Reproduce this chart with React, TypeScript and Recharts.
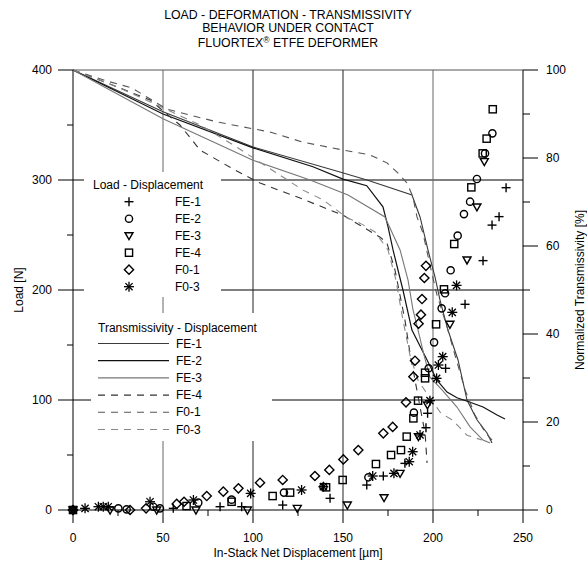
import React from "react";
import { ComposedChart, XAxis, YAxis, Scatter, Line, ReferenceLine } from "recharts";

const FONT = "'Liberation Sans', Arial, Helvetica, sans-serif";

const xTicks = [0, 25, 50, 75, 100, 125, 150, 175, 200, 225, 250];
const loadTicks = [0, 50, 100, 150, 200, 250, 300, 350, 400];
const transTicks = [0, 10, 20, 30, 40, 50, 60, 70, 80, 90, 100];

const titleLines = ["LOAD - DEFORMATION - TRANSMISSIVITY", "BEHAVIOR UNDER CONTACT"];
const seriesNames = ["FE-1", "FE-2", "FE-3", "FE-4", "F0-1", "F0-3"];

// Load - Displacement (d in µm, l in N)
const loadFE1 = [
  { d: 0, l: 0 }, { d: 55.7, l: 1.5 }, { d: 81.7, l: 3 }, { d: 93.7, l: 3 }, { d: 116.5, l: 4.5 },
  { d: 142.8, l: 10.6 }, { d: 163.2, l: 22.7 }, { d: 172.4, l: 30.9 }, { d: 184.4, l: 42.4 },
  { d: 196.1, l: 74.8 }, { d: 197, l: 87.9 }, { d: 207, l: 128.8 }, { d: 217.8, l: 187 },
  { d: 227.8, l: 226.7 }, { d: 232.8, l: 259 }, { d: 236.7, l: 266.7 }, { d: 240.6, l: 293 },
];
const loadFE2 = [
  { d: 0, l: 0 }, { d: 25.2, l: 1.5 }, { d: 29.8, l: 0.6 }, { d: 44.6, l: 3 }, { d: 48.3, l: 1.5 },
  { d: 69.6, l: 6.7 }, { d: 88.1, l: 9.4 }, { d: 117.2, l: 15.8 }, { d: 139.1, l: 21.2 },
  { d: 164.1, l: 29.7 }, { d: 189.4, l: 88.5 }, { d: 197.6, l: 128.8 }, { d: 200.6, l: 152.4 },
  { d: 204.8, l: 183.3 }, { d: 206.7, l: 197 }, { d: 209.8, l: 217.9 }, { d: 213.7, l: 249.4 },
  { d: 217.2, l: 269 }, { d: 220.6, l: 280.3 }, { d: 224.4, l: 300.9 }, { d: 228.9, l: 324.2 },
  { d: 233, l: 342.4 },
];
const loadFE3 = [
  { d: 0, l: 0 }, { d: 20.6, l: 0 }, { d: 46.5, l: 0 }, { d: 68.3, l: 0 }, { d: 96.9, l: 0 },
  { d: 124.6, l: 1.5 }, { d: 152.4, l: 4.5 }, { d: 172.8, l: 11.2 }, { d: 181.7, l: 33.3 },
  { d: 191.9, l: 66.7 }, { d: 196.9, l: 95.5 }, { d: 209.4, l: 168.8 }, { d: 218.9, l: 227.3 },
  { d: 224.4, l: 275.5 }, { d: 228.5, l: 316.7 },
];
const loadFE4 = [
  { d: 0, l: 0 }, { d: 63.1, l: 3.6 }, { d: 88.1, l: 7.5 }, { d: 110.9, l: 12.7 }, { d: 120.6, l: 15.8 },
  { d: 140.6, l: 20.6 }, { d: 149.8, l: 27.3 }, { d: 168.3, l: 41.8 }, { d: 176.7, l: 50 },
  { d: 182.2, l: 54.5 }, { d: 185.4, l: 66.7 }, { d: 189.1, l: 83.3 }, { d: 191.7, l: 99.4 },
  { d: 195.6, l: 119.7 }, { d: 195.6, l: 124.8 }, { d: 201.7, l: 168.8 }, { d: 206.1, l: 200.6 },
  { d: 211.8, l: 241.8 }, { d: 221.3, l: 293.3 }, { d: 227.6, l: 324.2 }, { d: 229.8, l: 337.6 },
  { d: 233.2, l: 364.3 },
];
const loadF01 = [
  { d: 0, l: 0 }, { d: 31.7, l: 0 }, { d: 40.6, l: 1.5 }, { d: 57.6, l: 5.5 }, { d: 61.7, l: 7.5 },
  { d: 74.3, l: 12.7 }, { d: 83.5, l: 16.7 }, { d: 91.9, l: 19.7 }, { d: 103.9, l: 24.8 },
  { d: 116.5, l: 27.3 }, { d: 134.4, l: 30.9 }, { d: 142.4, l: 36.4 }, { d: 150.2, l: 46 },
  { d: 158.5, l: 54.5 }, { d: 172.4, l: 69.7 }, { d: 177.6, l: 75.5 }, { d: 185, l: 97.9 },
  { d: 189.1, l: 121.2 }, { d: 190, l: 135.7 }, { d: 192, l: 169.4 }, { d: 193.3, l: 177.6 },
  { d: 193.9, l: 191.8 }, { d: 195.2, l: 210.9 }, { d: 196.1, l: 222 },
];
const loadF03 = [
  { d: 0, l: 0 }, { d: 6.7, l: 1.5 }, { d: 14.1, l: 3 }, { d: 16.8, l: 3 }, { d: 19.6, l: 3 },
  { d: 42.8, l: 7.5 }, { d: 66.9, l: 9.1 }, { d: 98.7, l: 15.1 }, { d: 127, l: 18.2 },
  { d: 139.1, l: 21.2 }, { d: 166.5, l: 30.9 }, { d: 178.3, l: 33.3 }, { d: 186.8, l: 43.9 },
  { d: 188.7, l: 53 }, { d: 192.8, l: 68.2 }, { d: 198.3, l: 99.4 }, { d: 202, l: 119.7 },
  { d: 203, l: 131.8 }, { d: 205.4, l: 139.4 }, { d: 210.7, l: 179.7 }, { d: 213.1, l: 204.2 },
];

// Transmissivity - Displacement (d in µm, t in %)
const transFE1 = [
  { d: 0, t: 100 }, { d: 50, t: 90.5 }, { d: 100, t: 82.5 }, { d: 148.3, t: 76.8 }, { d: 163.3, t: 75 },
  { d: 188.3, t: 71.6 }, { d: 192.8, t: 66.6 }, { d: 197.2, t: 59.1 }, { d: 201.1, t: 53 },
  { d: 203.9, t: 47.7 }, { d: 208.3, t: 40.9 }, { d: 213.9, t: 34.1 }, { d: 218.9, t: 25 },
  { d: 224.4, t: 20.5 }, { d: 230, t: 17.5 }, { d: 232.8, t: 15.2 },
];
const transFE2 = [
  { d: 0, t: 100 }, { d: 50, t: 90 }, { d: 100, t: 82.3 }, { d: 133.3, t: 78 }, { d: 150, t: 75.2 },
  { d: 163.2, t: 73.7 }, { d: 172.2, t: 68.9 }, { d: 175, t: 64.4 }, { d: 177.8, t: 59.1 },
  { d: 183.3, t: 50 }, { d: 188.3, t: 40.9 }, { d: 196.7, t: 34.1 }, { d: 202.2, t: 29.5 },
  { d: 207.8, t: 26.8 }, { d: 213.3, t: 25.5 }, { d: 220.6, t: 24.5 }, { d: 227.8, t: 23.4 },
  { d: 235.6, t: 21.6 }, { d: 240, t: 20.7 },
];
const transFE3 = [
  { d: 0, t: 100 }, { d: 50, t: 88.9 }, { d: 100, t: 79.5 }, { d: 131.7, t: 75 }, { d: 152.8, t: 71.6 },
  { d: 173.3, t: 66.6 }, { d: 181.7, t: 59.1 }, { d: 186.1, t: 52.3 }, { d: 188.9, t: 45.5 },
  { d: 191.7, t: 40.9 }, { d: 195, t: 35.2 }, { d: 198.3, t: 30.2 }, { d: 205, t: 27.3 },
  { d: 213.3, t: 23.4 }, { d: 220.6, t: 18.9 }, { d: 227.8, t: 15.9 }, { d: 231.7, t: 15.2 },
];
const transFE4 = [
  { d: 0, t: 100 }, { d: 20.6, t: 96.8 }, { d: 42.8, t: 93.2 }, { d: 59.4, t: 87.5 }, { d: 70.6, t: 81.8 },
  { d: 88.9, t: 77.5 }, { d: 103.9, t: 74.3 }, { d: 126.1, t: 70.9 }, { d: 150, t: 67 },
  { d: 170.6, t: 62 }, { d: 174.4, t: 60.7 }, { d: 178.9, t: 54.5 }, { d: 184.4, t: 43.2 },
  { d: 187.2, t: 35.7 }, { d: 192.8, t: 23.4 }, { d: 195.6, t: 17.5 }, { d: 196.7, t: 10.7 },
];
const transF01 = [
  { d: 0, t: 100 }, { d: 18.9, t: 97.5 }, { d: 32.8, t: 95.9 }, { d: 52.2, t: 91.1 }, { d: 80, t: 88.2 },
  { d: 109.4, t: 85.9 }, { d: 127.8, t: 83.6 }, { d: 150, t: 81.8 }, { d: 165, t: 80.7 },
  { d: 174.4, t: 78.9 }, { d: 180, t: 76.8 }, { d: 185.6, t: 74.3 }, { d: 188.9, t: 71.1 },
  { d: 191.1, t: 66.6 }, { d: 194.4, t: 63 }, { d: 198.3, t: 55.7 }, { d: 202.2, t: 48.9 },
  { d: 207.8, t: 41.6 }, { d: 212.2, t: 35.2 }, { d: 217.8, t: 27.3 }, { d: 223.3, t: 21.6 },
  { d: 228.9, t: 17.7 }, { d: 232.8, t: 15.9 },
];
const transF03 = [
  { d: 0, t: 100 }, { d: 26.1, t: 95.9 }, { d: 50, t: 91.4 }, { d: 70.6, t: 87.5 }, { d: 88.9, t: 83 },
  { d: 107.8, t: 78 }, { d: 127.8, t: 72.7 }, { d: 138.9, t: 70.5 }, { d: 152.2, t: 66.4 },
  { d: 159.4, t: 65.2 }, { d: 167.8, t: 63.2 }, { d: 175, t: 59.1 }, { d: 179.4, t: 52.3 },
  { d: 183.3, t: 43.2 }, { d: 187.2, t: 35.2 }, { d: 191.7, t: 29.5 }, { d: 197.2, t: 26.1 },
  { d: 204.4, t: 22 }, { d: 210.6, t: 20.5 }, { d: 218.9, t: 17 }, { d: 227.2, t: 15.9 },
];

const SW = 1.4;
const MK = "#000";

const PlusMark = ({ cx, cy }: any) => (
  <g>
    <line x1={cx - 4.5} y1={cy} x2={cx + 4.5} y2={cy} stroke={MK} strokeWidth={SW} />
    <line x1={cx} y1={cy - 4.5} x2={cx} y2={cy + 4.5} stroke={MK} strokeWidth={SW} />
  </g>
);
const CircleMark = ({ cx, cy }: any) => (
  <circle cx={cx} cy={cy} r={3.6} fill="none" stroke={MK} strokeWidth={SW} />
);
const TriMark = ({ cx, cy }: any) => (
  <polygon points={`${cx - 4},${cy - 3} ${cx + 4},${cy - 3} ${cx},${cy + 4}`} fill="none" stroke={MK} strokeWidth={SW} />
);
const SquareMark = ({ cx, cy }: any) => (
  <rect x={cx - 3.6} y={cy - 3.6} width={7.2} height={7.2} fill="none" stroke={MK} strokeWidth={SW} />
);
const DiamondMark = ({ cx, cy }: any) => (
  <polygon points={`${cx},${cy - 4.6} ${cx + 4.6},${cy} ${cx},${cy + 4.6} ${cx - 4.6},${cy}`} fill="none" stroke={MK} strokeWidth={SW} />
);
const StarMark = ({ cx, cy }: any) => (
  <g stroke={MK} strokeWidth={1.3}>
    <line x1={cx - 5} y1={cy} x2={cx + 5} y2={cy} />
    <line x1={cx} y1={cy - 5} x2={cx} y2={cy + 5} />
    <line x1={cx - 3.6} y1={cy - 3.6} x2={cx + 3.6} y2={cy + 3.6} />
    <line x1={cx - 3.6} y1={cy + 3.6} x2={cx + 3.6} y2={cy - 3.6} />
  </g>
);

const markers = [PlusMark, CircleMark, TriMark, SquareMark, DiamondMark, StarMark];
const loadSeries = [loadFE1, loadFE2, loadFE3, loadFE4, loadF01, loadF03];
const transSeries = [transFE1, transFE2, transFE3, transFE4, transF01, transF03];
const lineStyles = [
  { stroke: "#3a3a3a", width: 1.1, dash: undefined },
  { stroke: "#111111", width: 1.2, dash: undefined },
  { stroke: "#777777", width: 1.1, dash: undefined },
  { stroke: "#333333", width: 1.1, dash: "7 6" },
  { stroke: "#555555", width: 1.1, dash: "7 6" },
  { stroke: "#888888", width: 1.1, dash: "7 6" },
];

const LeftTick = (props: any) => {
  const { x, y, payload } = props;
  const major = payload.value % 100 === 0;
  const len = major ? 15 : 6;
  return (
    <g>
      <line x1={x - len} y1={y} x2={x} y2={y} stroke="#000" strokeWidth={1} />
      {major && (
        <text x={x - 21} y={y + 4} textAnchor="end" fontSize={12} fontFamily={FONT} fill="#000">
          {payload.value}
        </text>
      )}
    </g>
  );
};

const RightTick = (props: any) => {
  const { x, y, payload } = props;
  const major = payload.value % 20 === 0;
  const len = major ? 15 : 7;
  return (
    <g>
      <line x1={x} y1={y} x2={x + len} y2={y} stroke="#000" strokeWidth={1} />
      {major && (
        <text x={x + 23} y={y + 4} textAnchor="start" fontSize={12} fontFamily={FONT} fill="#000">
          {payload.value}
        </text>
      )}
    </g>
  );
};

const BottomTick = (props: any) => {
  const { x, y, payload } = props;
  const major = payload.value % 50 === 0;
  const len = major ? 13 : 6;
  return (
    <g>
      <line x1={x} y1={y} x2={x} y2={y + len} stroke="#000" strokeWidth={1} />
      {major && (
        <text x={x} y={y + 32} textAnchor="middle" fontSize={12} fontFamily={FONT} fill="#000">
          {payload.value}
        </text>
      )}
    </g>
  );
};

const Overlay = () => {
  const txt = { fontSize: 12, fontFamily: FONT, fill: "#000" } as const;
  return (
    <svg
      width={587}
      height={565}
      style={{ position: "absolute", left: 0, top: 0, pointerEvents: "none" }}
    >
      <text x={288} y={18.5} textAnchor="middle" {...txt} fontSize={12.3}>{titleLines[0]}</text>
      <text x={288} y={31.5} textAnchor="middle" {...txt} fontSize={12.3}>{titleLines[1]}</text>
      <text x={288} y={47} textAnchor="middle" {...txt} fontSize={12.3}>
        FLUORTEX<tspan fontSize={8.5} dy={-4}>®</tspan><tspan dy={4}>{" ETFE DEFORMER"}</tspan>
      </text>

      <text transform="translate(23,290) rotate(-90)" textAnchor="middle" {...txt}>Load [N]</text>
      <text transform="translate(584,290) rotate(-90)" textAnchor="middle" {...txt}>
        Normalized Transmissivity [%]
      </text>
      <text x={298} y={557} textAnchor="middle" {...txt}>In-Stack Net Displacement [µm]</text>

      <rect x={84} y={172} width={137} height={125} fill="#fff" />
      <rect x={91} y={313} width={181} height={128} fill="#fff" />

      <text x={93} y={189} {...txt}>Load - Displacement</text>
      {seriesNames.map((n, i) => {
        const Mk = markers[i];
        const y = 201.7 + i * 17;
        return (
          <g key={n}>
            <Mk cx={129} cy={y} />
            <text x={175} y={y + 4} {...txt}>{n}</text>
          </g>
        );
      })}

      <text x={98} y={332} {...txt}>Transmissivity - Displacement</text>
      {seriesNames.map((n, i) => {
        const s = lineStyles[i];
        const y = 343.5 + i * 17.2;
        return (
          <g key={n}>
            <line x1={98} y1={y} x2={169} y2={y} stroke={s.stroke} strokeWidth={s.width} strokeDasharray={s.dash} />
            <text x={176} y={y + 4} {...txt}>{n}</text>
          </g>
        );
      })}
    </svg>
  );
};

export default function App() {
  return (
    <div style={{ position: "absolute", left: 0, top: 0, width: 587, height: 565, background: "#fff" }}>
      <ComposedChart
        width={587}
        height={565}
        margin={{ top: 70, right: 24, bottom: 25, left: 33 }}
      >
        <XAxis
          dataKey="d"
          type="number"
          domain={[0, 250]}
          ticks={xTicks}
          interval={0}
          tickSize={0}
          tickMargin={0}
          tick={<BottomTick />}
          axisLine={{ stroke: "#000", strokeWidth: 1 }}
          height={30}
        />
        <YAxis
          yAxisId="left"
          dataKey="l"
          type="number"
          domain={[0, 400]}
          ticks={loadTicks}
          interval={0}
          tickSize={0}
          tickMargin={0}
          tick={<LeftTick />}
          axisLine={{ stroke: "#000", strokeWidth: 1 }}
          width={40}
        />
        <YAxis
          yAxisId="right"
          orientation="right"
          type="number"
          domain={[0, 100]}
          ticks={transTicks}
          interval={0}
          tickSize={0}
          tickMargin={0}
          tick={<RightTick />}
          axisLine={{ stroke: "#000", strokeWidth: 1 }}
          width={40}
        />
        <ReferenceLine yAxisId="left" y={400} stroke="#555" strokeWidth={1} />
        <ReferenceLine yAxisId="left" y={100} stroke="#000" strokeWidth={1} />
        <ReferenceLine yAxisId="left" y={200} stroke="#000" strokeWidth={1} />
        <ReferenceLine yAxisId="left" y={300} stroke="#000" strokeWidth={1} />
        <ReferenceLine yAxisId="left" x={50} stroke="#666" strokeWidth={1} />
        <ReferenceLine yAxisId="left" x={100} stroke="#222" strokeWidth={1} />
        <ReferenceLine yAxisId="left" x={150} stroke="#222" strokeWidth={1} />
        <ReferenceLine yAxisId="left" x={200} stroke="#666" strokeWidth={1} />

        {transSeries.map((data, i) => (
          <Line
            key={"t" + i}
            yAxisId="right"
            data={data}
            dataKey="t"
            type="linear"
            stroke={lineStyles[i].stroke}
            strokeWidth={lineStyles[i].width}
            strokeDasharray={lineStyles[i].dash}
            dot={false}
            activeDot={false}
            isAnimationActive={false}
            name={"T " + seriesNames[i]}
          />
        ))}
        {loadSeries.map((data, i) => {
          const Mk = markers[i];
          return (
            <Scatter
              key={"l" + i}
              yAxisId="left"
              data={data}
              shape={(p: any) => <Mk cx={p.cx} cy={p.cy} />}
              isAnimationActive={false}
              name={"L " + seriesNames[i]}
            />
          );
        })}
      </ComposedChart>
      <Overlay />
    </div>
  );
}
